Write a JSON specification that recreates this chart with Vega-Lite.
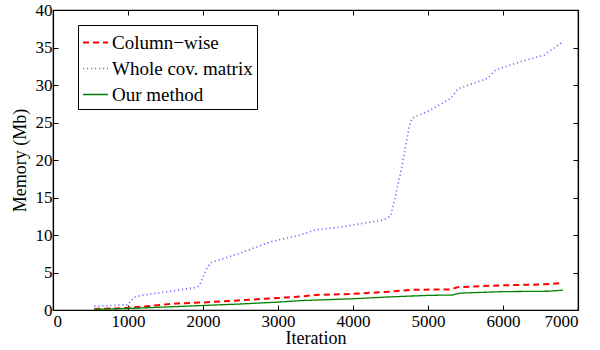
{
  "$schema": "https://vega.github.io/schema/vega-lite/v6.json",
  "width": 525,
  "height": 300,
  "autosize": "none",
  "padding": {"left": 53, "top": 10, "right": 22, "bottom": 40},
  "config": {
    "font": "Times New Roman, Liberation Serif, serif",
    "view": {"stroke": "black", "strokeWidth": 1.2},
    "axis": {
      "grid": false,
      "domainColor": "black",
      "domainWidth": 1.2,
      "tickColor": "black",
      "tickWidth": 1,
      "tickSize": -5,
      "labelColor": "black",
      "labelFont": "Times New Roman, Liberation Serif, serif",
      "labelFontSize": 17,
      "titleFont": "Times New Roman, Liberation Serif, serif",
      "titleFontSize": 18,
      "titleFontWeight": "normal",
      "titleColor": "black",
      "format": "d"
    }
  },
  "data": {
    "values": [
      {"it": 550, "mem": 0.15, "series": "Column−wise"},
      {"it": 800, "mem": 0.2, "series": "Column−wise"},
      {"it": 1000, "mem": 0.3, "series": "Column−wise"},
      {"it": 1200, "mem": 0.45, "series": "Column−wise"},
      {"it": 1500, "mem": 0.75, "series": "Column−wise"},
      {"it": 1700, "mem": 0.9, "series": "Column−wise"},
      {"it": 2000, "mem": 1.0, "series": "Column−wise"},
      {"it": 2500, "mem": 1.3, "series": "Column−wise"},
      {"it": 3000, "mem": 1.6, "series": "Column−wise"},
      {"it": 3300, "mem": 1.8, "series": "Column−wise"},
      {"it": 3500, "mem": 2.0, "series": "Column−wise"},
      {"it": 4000, "mem": 2.15, "series": "Column−wise"},
      {"it": 4500, "mem": 2.45, "series": "Column−wise"},
      {"it": 4800, "mem": 2.7, "series": "Column−wise"},
      {"it": 5300, "mem": 2.75, "series": "Column−wise"},
      {"it": 5400, "mem": 3.05, "series": "Column−wise"},
      {"it": 6000, "mem": 3.3, "series": "Column−wise"},
      {"it": 6500, "mem": 3.4, "series": "Column−wise"},
      {"it": 6800, "mem": 3.6, "series": "Column−wise"},

      {"it": 550, "mem": 0.5, "series": "Whole cov. matrix"},
      {"it": 1000, "mem": 0.7, "series": "Whole cov. matrix"},
      {"it": 1080, "mem": 1.7, "series": "Whole cov. matrix"},
      {"it": 1200, "mem": 2.0, "series": "Whole cov. matrix"},
      {"it": 1500, "mem": 2.4, "series": "Whole cov. matrix"},
      {"it": 1900, "mem": 3.0, "series": "Whole cov. matrix"},
      {"it": 1950, "mem": 3.2, "series": "Whole cov. matrix"},
      {"it": 2050, "mem": 5.5, "series": "Whole cov. matrix"},
      {"it": 2100, "mem": 6.3, "series": "Whole cov. matrix"},
      {"it": 2500, "mem": 7.6, "series": "Whole cov. matrix"},
      {"it": 2900, "mem": 9.1, "series": "Whole cov. matrix"},
      {"it": 3300, "mem": 10.0, "series": "Whole cov. matrix"},
      {"it": 3500, "mem": 10.7, "series": "Whole cov. matrix"},
      {"it": 3800, "mem": 11.0, "series": "Whole cov. matrix"},
      {"it": 4100, "mem": 11.5, "series": "Whole cov. matrix"},
      {"it": 4400, "mem": 12.0, "series": "Whole cov. matrix"},
      {"it": 4500, "mem": 12.5, "series": "Whole cov. matrix"},
      {"it": 4550, "mem": 14.5, "series": "Whole cov. matrix"},
      {"it": 4650, "mem": 19.0, "series": "Whole cov. matrix"},
      {"it": 4750, "mem": 24.5, "series": "Whole cov. matrix"},
      {"it": 4790, "mem": 25.6, "series": "Whole cov. matrix"},
      {"it": 5000, "mem": 26.5, "series": "Whole cov. matrix"},
      {"it": 5300, "mem": 28.2, "series": "Whole cov. matrix"},
      {"it": 5400, "mem": 29.5, "series": "Whole cov. matrix"},
      {"it": 5800, "mem": 30.9, "series": "Whole cov. matrix"},
      {"it": 5900, "mem": 32.0, "series": "Whole cov. matrix"},
      {"it": 6200, "mem": 33.0, "series": "Whole cov. matrix"},
      {"it": 6550, "mem": 34.0, "series": "Whole cov. matrix"},
      {"it": 6800, "mem": 35.8, "series": "Whole cov. matrix"},

      {"it": 550, "mem": 0.1, "series": "Our method"},
      {"it": 1000, "mem": 0.2, "series": "Our method"},
      {"it": 1500, "mem": 0.4, "series": "Our method"},
      {"it": 2000, "mem": 0.6, "series": "Our method"},
      {"it": 2500, "mem": 0.8, "series": "Our method"},
      {"it": 3000, "mem": 1.05, "series": "Our method"},
      {"it": 3300, "mem": 1.25, "series": "Our method"},
      {"it": 4000, "mem": 1.5, "series": "Our method"},
      {"it": 4500, "mem": 1.75, "series": "Our method"},
      {"it": 5000, "mem": 1.95, "series": "Our method"},
      {"it": 5330, "mem": 2.0, "series": "Our method"},
      {"it": 5430, "mem": 2.25, "series": "Our method"},
      {"it": 6000, "mem": 2.45, "series": "Our method"},
      {"it": 6600, "mem": 2.5, "series": "Our method"},
      {"it": 6800, "mem": 2.65, "series": "Our method"}
    ]
  },
  "layer": [
    {
      "mark": {"type": "line", "clip": true},
      "encoding": {
        "x": {
          "field": "it", "type": "quantitative", "title": "Iteration",
          "scale": {"domain": [0, 7000], "nice": false},
          "axis": {"values": [0, 1000, 2000, 3000, 4000, 5000, 6000, 7000], "labelPadding": 8, "titlePadding": 0}
        },
        "y": {
          "field": "mem", "type": "quantitative", "title": "Memory (Mb)",
          "scale": {"domain": [0, 40], "nice": false},
          "axis": {"values": [0, 5, 10, 15, 20, 25, 30, 35, 40], "labelPadding": 6, "titlePadding": 6}
        },
        "color": {
          "field": "series", "type": "nominal",
          "scale": {"domain": ["Column−wise", "Whole cov. matrix", "Our method"], "range": ["#ff0000", "#7070ff", "#008000"]},
          "legend": {
            "orient": "none", "legendX": 25, "legendY": 15,
            "title": null,
            "strokeColor": "black", "fillColor": "white",
            "padding": 4,
            "symbolType": "stroke", "symbolSize": 625, "symbolStrokeWidth": 1.6,
            "labelFont": "Times New Roman, Liberation Serif, serif", "labelFontSize": 19, "labelColor": "black",
            "labelOffset": 3, "rowPadding": 2
          }
        },
        "strokeDash": {
          "field": "series", "type": "nominal",
          "scale": {"domain": ["Column−wise", "Whole cov. matrix", "Our method"], "range": [[6, 4], [1.2, 2.8], [1, 0]]}
        },
        "strokeWidth": {
          "field": "series", "type": "nominal",
          "scale": {"domain": ["Column−wise", "Whole cov. matrix", "Our method"], "range": [2, 1.3, 1.6]}
        }
      }
    },
    {
      "mark": {"type": "line", "opacity": 0},
      "encoding": {
        "x": {
          "field": "it", "type": "quantitative",
          "axis": {"orient": "top", "values": [0, 1000, 2000, 3000, 4000, 5000, 6000, 7000], "labels": false, "title": null}
        },
        "y": {
          "field": "mem", "type": "quantitative",
          "axis": {"orient": "right", "values": [0, 5, 10, 15, 20, 25, 30, 35, 40], "labels": false, "title": null}
        }
      }
    }
  ],
  "resolve": {"axis": {"x": "independent", "y": "independent"}}
}
